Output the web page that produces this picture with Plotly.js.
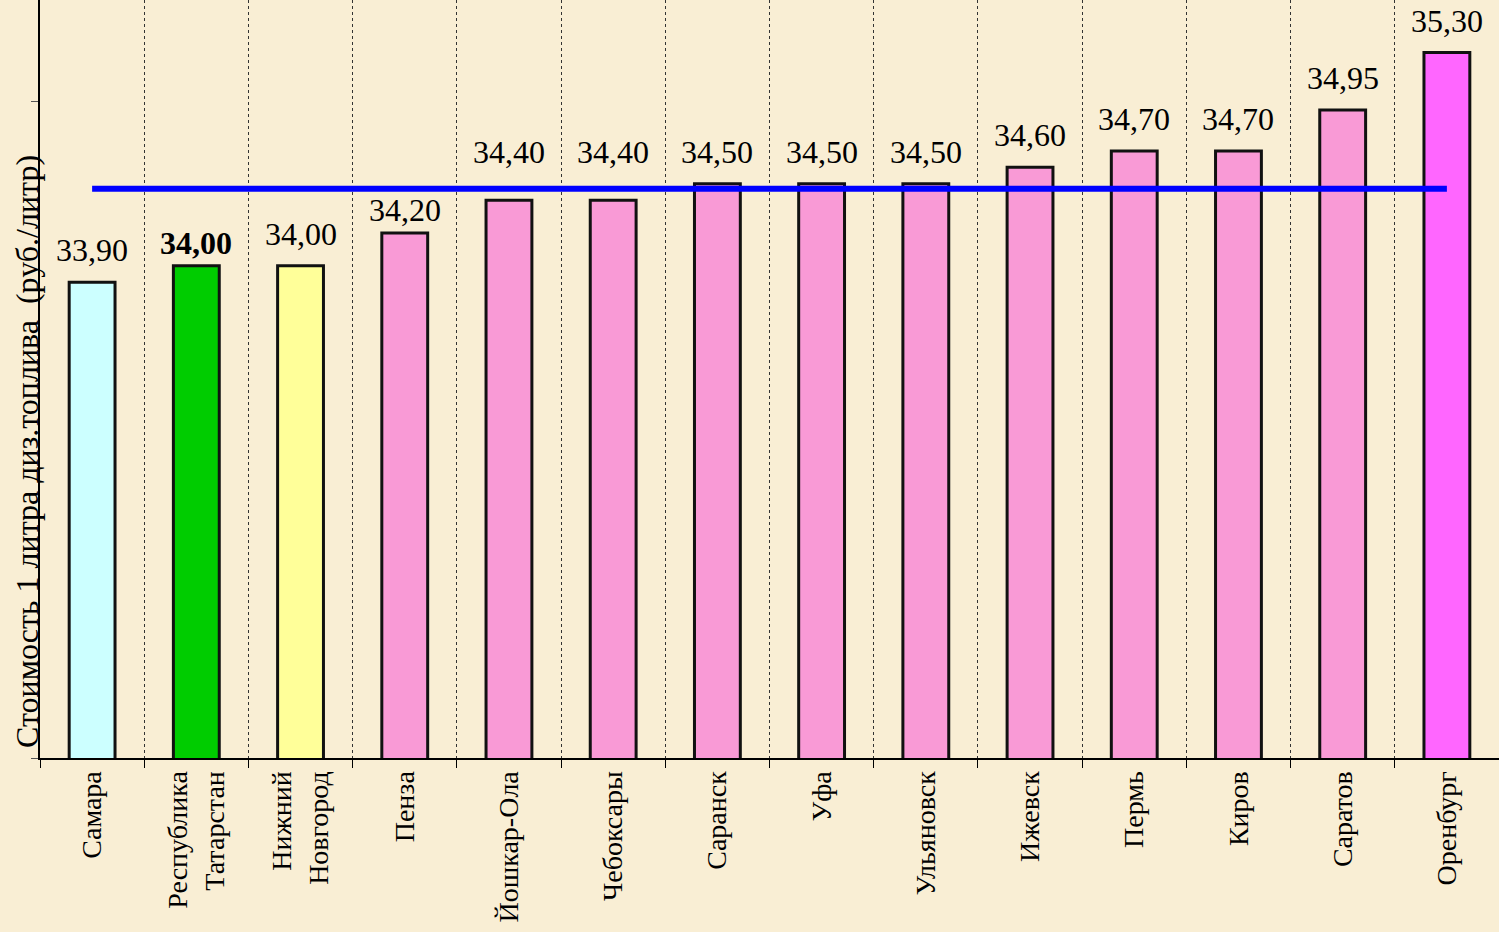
<!DOCTYPE html>
<html>
<head>
<meta charset="utf-8">
<script src="https://cdn.plot.ly/plotly-3.0.1.min.js"></script>
<style>html,body{margin:0;padding:0;background:#f9eed4;}#chart{width:1499px;height:932px;}</style>
</head>
<body>
<div id="chart"></div>
<script>
const categories = ["Самара", "Республика<br>Татарстан", "Нижний<br>Новгород", "Пенза", "Йошкар-Ола", "Чебоксары", "Саранск", "Уфа", "Ульяновск", "Ижевск", "Пермь", "Киров", "Саратов", "Оренбург"];
const prices = [33.90, 34.00, 34.00, 34.20, 34.40, 34.40, 34.50, 34.50, 34.50, 34.60, 34.70, 34.70, 34.95, 35.30];
const priceLabels = ["33,90", "34,00", "34,00", "34,20", "34,40", "34,40", "34,50", "34,50", "34,50", "34,60", "34,70", "34,70", "34,95", "35,30"];
const boldLabel = [false, true, false, false, false, false, false, false, false, false, false, false, false, false];
const barColors = ["#ccffff", "#00cc00", "#ffff99", "#f99ad6", "#f99ad6", "#f99ad6", "#f99ad6", "#f99ad6", "#f99ad6", "#f99ad6", "#f99ad6", "#f99ad6", "#f99ad6", "#ff66ff"];
const averagePrice = 34.47;
const yTitle = "Стоимость 1 литра диз.топлива  (руб./литр)";

// styling: vertical offset (px) of each value label above its bar
const labelYShift = [12, 3, 12, 3, 28, 28, 12, 12, 12, 12, 12, 12, 12, 12];

const serif = "Liberation Serif, Times New Roman, serif";

const bars = {
  type: "bar",
  x: categories,
  y: prices,
  marker: { color: barColors, line: { color: "#111111", width: 3 } },
  hoverinfo: "x+y",
  showlegend: false
};
const avgLine = {
  type: "scatter",
  mode: "lines",
  x: categories,
  y: categories.map(() => averagePrice),
  line: { color: "#0000ff", width: 6 },
  hoverinfo: "skip",
  showlegend: false
};

const annotations = categories.map((c, i) => ({
  x: c, y: prices[i], xref: "x", yref: "y",
  text: boldLabel[i] ? "<b>" + priceLabels[i] + "</b>" : priceLabels[i],
  showarrow: false, yanchor: "bottom", yshift: labelYShift[i],
  font: { family: serif, size: 32, color: "#000000" }
}));
annotations.push({
  xref: "paper", yref: "paper", x: -0.009, y: 0.405,
  text: yTitle, textangle: -90, showarrow: false,
  xanchor: "center", yanchor: "middle",
  font: { family: serif, size: 32, color: "#000000" }
});

const layout = {
  width: 1499, height: 932,
  margin: { l: 40, r: 0, t: 0, b: 174, pad: 0 },
  paper_bgcolor: "#f9eed4",
  plot_bgcolor: "#f9eed4",
  bargap: 0.56,
  xaxis: {
    type: "category",
    tickson: "boundaries",
    ticks: "outside", ticklen: 8, tickcolor: "#000000", tickwidth: 1,
    showgrid: true, gridcolor: "#333333", gridwidth: 1, griddash: "dot",
    showline: true, linecolor: "#000000", linewidth: 2,
    tickangle: -90,
    tickfont: { family: serif, size: 28, color: "#000000" },
    fixedrange: true
  },
  yaxis: {
    range: [31, 35.62],
    tickvals: [31, 35],
    showticklabels: false,
    ticks: "outside", ticklen: 7, tickcolor: "#555555", tickwidth: 1,
    showgrid: false, zeroline: false,
    showline: true, linecolor: "#000000", linewidth: 2,
    fixedrange: true
  },
  annotations: annotations
};

Plotly.newPlot("chart", [bars, avgLine], layout, { displayModeBar: false, staticPlot: true });
</script>
</body>
</html>
